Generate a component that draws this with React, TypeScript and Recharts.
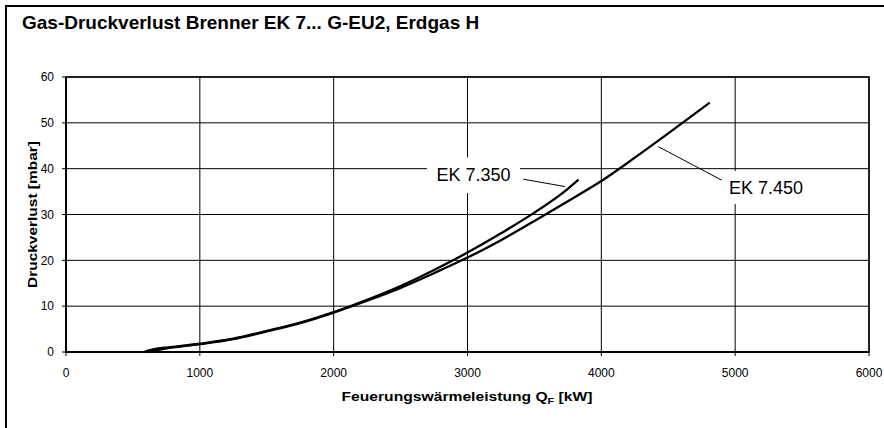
import React from "react";
import {
  LineChart,
  Line,
  XAxis,
  YAxis,
  CartesianGrid,
  ReferenceArea,
  ReferenceLine,
} from "recharts";

// Feuerungswärmeleistung [kW] und Druckverlust [mbar]
const kw350 = [580, 650, 800, 1000, 1250, 1500, 1750, 2000, 2250, 2500, 2750, 3000, 3250, 3500, 3750, 3830];
const p350 = [0, 0.6, 1.1, 1.8, 2.9, 4.6, 6.4, 8.7, 11.4, 14.4, 17.9, 21.7, 25.9, 30.4, 35.6, 37.6];

const kw450 = [600, 700, 800, 1000, 1250, 1500, 1750, 2000, 2250, 2500, 2750, 3000, 3250, 3500, 3750, 4000, 4250, 4500, 4750, 4810];
const p450 = [0, 0.5, 1.0, 1.7, 2.8, 4.5, 6.3, 8.6, 11.2, 14.0, 17.2, 20.6, 24.4, 28.6, 32.9, 37.3, 42.4, 47.7, 53.1, 54.4];

const xTicks = [0, 1000, 2000, 3000, 4000, 5000, 6000];
const yTicks = [0, 10, 20, 30, 40, 50, 60];

const FONT = "'Liberation Sans', Arial, sans-serif";

const data350 = kw350.map((kw, i) => ({ kw, p: p350[i] }));
const data450 = kw450.map((kw, i) => ({ kw, p: p450[i] }));

export default function App() {
  return (
    <div
      style={{
        position: "absolute",
        left: 0,
        top: 0,
        width: 884,
        height: 428,
        background: "#fff",
        overflow: "hidden",
        fontFamily: FONT,
      }}
    >
      {/* Rahmen links/oben */}
      <div
        style={{
          position: "absolute",
          left: 5,
          top: 5,
          width: 884,
          height: 428,
          borderLeft: "2px solid #000",
          borderTop: "2px solid #000",
        }}
      />
      {/* Titel */}
      <div
        style={{
          position: "absolute",
          left: 22,
          top: 13,
          fontSize: 19,
          lineHeight: "19px",
          fontWeight: "bold",
          color: "#000",
          whiteSpace: "nowrap",
        }}
      >
        Gas-Druckverlust Brenner EK 7... G-EU2, Erdgas H
      </div>

      <div style={{ position: "absolute", left: 0, top: 0 }}>
        <LineChart
          width={884}
          height={428}
          margin={{ top: 77, right: 15, left: 0, bottom: 0 }}
        >
          <CartesianGrid stroke="#000" strokeWidth={1} />
          <ReferenceArea
            x1={0}
            x2={6000}
            y1={0}
            y2={60}
            fill="none"
            stroke="#000"
            strokeWidth={1.5}
          />
          <XAxis
            dataKey="kw"
            type="number"
            domain={[0, 6000]}
            ticks={xTicks}
            allowDuplicatedCategory={false}
            height={76}
            tickSize={4}
            tickMargin={12}
            axisLine={{ stroke: "#000", strokeWidth: 2 }}
            tickLine={{ stroke: "#000" }}
            tick={{ fill: "#000", fontSize: 12, fontFamily: FONT }}
            label={{
              content: ({ viewBox }: any) => (
                <text
                  x={viewBox.x + viewBox.width / 2 - 126}
                  y={viewBox.y + 48.5}
                  fontSize={13}
                  fontWeight="bold"
                  fontFamily={FONT}
                  fill="#000"
                  textLength={251}
                  lengthAdjust="spacingAndGlyphs"
                >
                  Feuerungswärmeleistung Q
                  <tspan fontSize={9} dy={3}>F</tspan>
                  <tspan dy={-3}> [kW]</tspan>
                </text>
              ),
            }}
          />
          <YAxis
            type="number"
            domain={[0, 60]}
            ticks={yTicks}
            width={66}
            tickSize={4}
            tickMargin={8}
            axisLine={{ stroke: "#000", strokeWidth: 2 }}
            tickLine={{ stroke: "#000" }}
            tick={{ fill: "#000", fontSize: 12, fontFamily: FONT }}
            label={{
              content: ({ viewBox }: any) => {
                const cx = viewBox.x + 37;
                const cy = viewBox.y + viewBox.height / 2;
                return (
                  <text
                    x={cx}
                    y={cy}
                    transform={`rotate(-90 ${cx} ${cy})`}
                    textAnchor="middle"
                    fontSize={13}
                    fontWeight="bold"
                    fontFamily={FONT}
                    fill="#000"
                    textLength={147}
                    lengthAdjust="spacingAndGlyphs"
                  >
                    Druckverlust [mbar]
                  </text>
                );
              },
            }}
          />

          {/* Beschriftungen mit weißem Hintergrund */}
          <ReferenceArea
            x1={2697}
            x2={3392}
            y1={34.7}
            y2={42.5}
            fill="#fff"
            fillOpacity={1}
            stroke="none"
            label={{ value: "EK 7.350", position: "center", fontSize: 18, fill: "#000", fontFamily: FONT }}
          />
          <ReferenceArea
            x1={4887}
            x2={5574}
            y1={32.3}
            y2={39.5}
            fill="#fff"
            fillOpacity={1}
            stroke="none"
            label={{ value: "EK 7.450", position: "center", fontSize: 18, fill: "#000", fontFamily: FONT }}
          />
          <ReferenceLine
            segment={[
              { x: 3417, y: 37.7 },
              { x: 3728, y: 36.1 },
            ]}
            stroke="#000"
            strokeWidth={1}
          />
          <ReferenceLine
            segment={[
              { x: 4899, y: 37.5 },
              { x: 4426, y: 44.8 },
            ]}
            stroke="#000"
            strokeWidth={1}
          />

          <Line
            data={data350}
            dataKey="p"
            type="monotone"
            stroke="#000"
            strokeWidth={2.3}
            dot={false}
            isAnimationActive={false}
          />
          <Line
            data={data450}
            dataKey="p"
            type="monotone"
            stroke="#000"
            strokeWidth={2.3}
            dot={false}
            isAnimationActive={false}
          />
        </LineChart>
      </div>
    </div>
  );
}
